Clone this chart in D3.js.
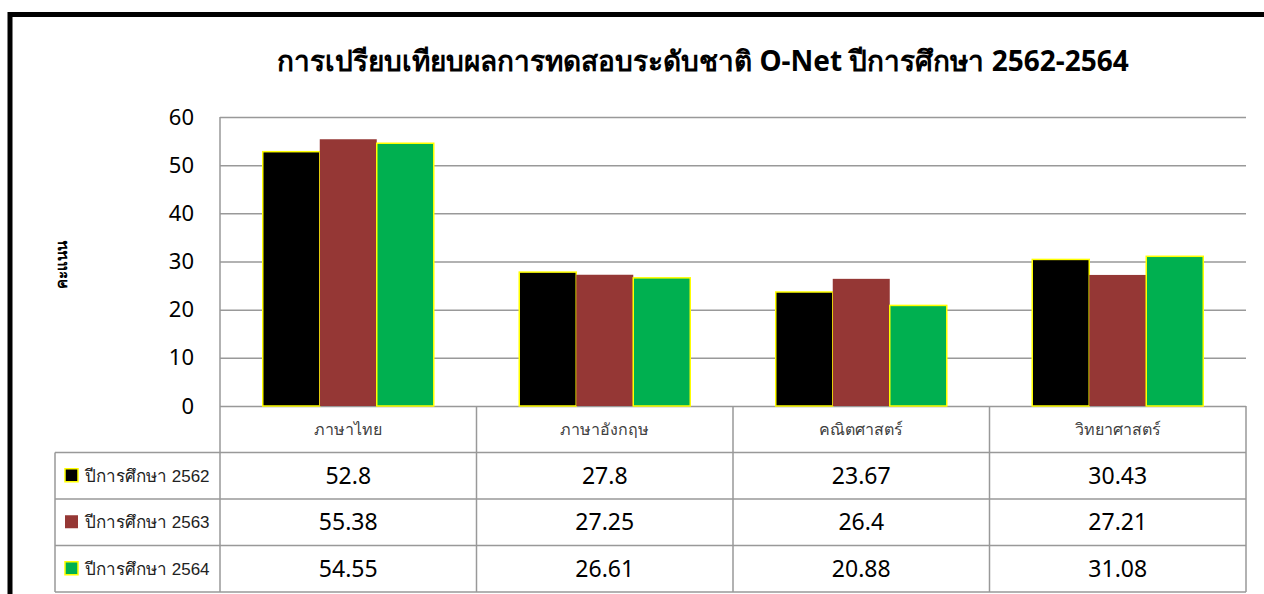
<!DOCTYPE html>
<html>
<head>
<meta charset="utf-8">
<title>O-Net 2562-2564</title>
<script src="https://d3js.org/d3.v7.min.js"></script>
<style>
  body { margin: 0; background: #fff; }
  svg { display: block; }
  .grid line { stroke: #999; stroke-width: 1.5px; }
  .grid path { display: none; }
  .ytick text { font-family: "Noto Sans", "Open Sans", sans-serif; font-size: 22px; fill: #000; }
  .ytick path, .ytick line { display: none; }
  .tbl line { stroke: #999; stroke-width: 1.5px; }
</style>
</head>
<body>
<div id="chart"></div>
<script>
const title = "การเปรียบเทียบผลการทดสอบระดับชาติ O-Net ปีการศึกษา 2562-2564";
const yLabel = "คะแนน";
const subjects = ["ภาษาไทย", "ภาษาอังกฤษ", "คณิตศาสตร์", "วิทยาศาสตร์"];
const seriesNames = ["ปีการศึกษา 2562", "ปีการศึกษา 2563", "ปีการศึกษา 2564"];
const values2562 = [52.8, 27.8, 23.67, 30.43];
const values2563 = [55.38, 27.25, 26.4, 27.21];
const values2564 = [54.55, 26.61, 20.88, 31.08];
const yTicks = [0, 10, 20, 30, 40, 50, 60];

const colors = ["#000000", "#953735", "#00b050"];
const strokes = ["#ffff00", "none", "#ffff00"];
const seriesValues = [values2562, values2563, values2564];

const W = 1264, H = 594;
const plot = { left: 220, right: 1246, top: 117, bottom: 406 };
const tableBottom = 592, legendLeft = 55;

const svg = d3.select("#chart").append("svg")
  .attr("width", W).attr("height", H);

// outer frame (thick black border, runs off the right/bottom edge)
svg.append("rect")
  .attr("x", 10).attr("y", 14.5)
  .attr("width", 1400).attr("height", 800)
  .attr("fill", "none").attr("stroke", "#000").attr("stroke-width", 5);

svg.append("text")
  .attr("x", 703).attr("y", 71)
  .attr("text-anchor", "middle")
  .style("font-family", "'Noto Sans', 'Open Sans', sans-serif")
  .style("font-weight", "bold")
  .style("font-size", "28px")
  .text(title);

const y = d3.scaleLinear().domain([0, 60]).range([plot.bottom, plot.top]);
const x0 = d3.scaleBand().domain(subjects).range([plot.left, plot.right]);
const x1 = d3.scaleBand().domain(seriesNames).range([0, x0.bandwidth()])
  .paddingInner(0).paddingOuter(0.75);

// gridlines
svg.append("g").attr("class", "grid")
  .attr("transform", `translate(${plot.left},0)`)
  .call(d3.axisLeft(y).tickValues(yTicks).tickSize(-(plot.right - plot.left)).tickFormat(""));

// y tick labels
svg.append("g").attr("class", "ytick")
  .attr("transform", `translate(${plot.left - 20},0)`)
  .call(d3.axisLeft(y).tickValues(yTicks).tickSize(0).tickPadding(6));

// y label
svg.append("text")
  .attr("transform", "translate(67,265) rotate(-90)")
  .attr("text-anchor", "middle")
  .style("font-family", "'Noto Sans', sans-serif")
  .style("font-weight", "bold")
  .style("font-size", "15px")
  .text(yLabel);

// bars
seriesValues.forEach((vals, si) => {
  svg.append("g").selectAll("rect")
    .data(vals)
    .join("rect")
    .attr("x", (d, i) => x0(subjects[i]) + x1(seriesNames[si]))
    .attr("y", d => y(d))
    .attr("width", x1.bandwidth())
    .attr("height", d => y(0) - y(d))
    .attr("fill", colors[si])
    .attr("stroke", strokes[si])
    .attr("stroke-width", 1.5);
});

// data table
const rows = d3.scaleBand().domain(["head", ...seriesNames]).range([plot.bottom, tableBottom]);
const tbl = svg.append("g").attr("class", "tbl");

// vertical lines
tbl.append("line").attr("x1", plot.left).attr("x2", plot.left).attr("y1", plot.top).attr("y2", tableBottom);
subjects.forEach(s => {
  const xr = x0(s) + x0.bandwidth();
  tbl.append("line").attr("x1", xr).attr("x2", xr).attr("y1", plot.bottom).attr("y2", tableBottom);
});
tbl.append("line").attr("x1", legendLeft).attr("x2", legendLeft).attr("y1", rows(seriesNames[0])).attr("y2", tableBottom);

// horizontal lines
seriesNames.forEach(n => {
  tbl.append("line").attr("x1", legendLeft).attr("x2", plot.right).attr("y1", rows(n)).attr("y2", rows(n));
});
tbl.append("line").attr("x1", legendLeft).attr("x2", plot.right).attr("y1", tableBottom).attr("y2", tableBottom);

// header labels
svg.append("g").selectAll("text")
  .data(subjects)
  .join("text")
  .attr("x", d => x0(d) + x0.bandwidth() / 2)
  .attr("y", rows("head") + rows.bandwidth() / 2 + 6)
  .attr("text-anchor", "middle")
  .style("font-family", "'Noto Sans', sans-serif")
  .style("font-size", "16px")
  .style("fill", "#404040")
  .text(d => d);

// values + legend
seriesNames.forEach((n, si) => {
  const cy = rows(n) + rows.bandwidth() / 2;
  svg.append("g").selectAll("text")
    .data(seriesValues[si])
    .join("text")
    .attr("x", (d, i) => x0(subjects[i]) + x0.bandwidth() / 2)
    .attr("y", cy + 8)
    .attr("text-anchor", "middle")
    .style("font-family", "'Noto Sans', 'Open Sans', sans-serif")
    .style("font-size", "23px")
    .text(d => d);

  svg.append("rect")
    .attr("x", 65).attr("y", cy - 7)
    .attr("width", 13).attr("height", 13)
    .attr("fill", colors[si])
    .attr("stroke", strokes[si])
    .attr("stroke-width", 1.5);

  svg.append("text")
    .attr("x", 85).attr("y", cy + 6)
    .style("font-family", "'Liberation Sans', Arial, sans-serif")
    .style("font-size", "17px")
    .style("fill", "#222")
    .text(n);
});
</script>
</body>
</html>
